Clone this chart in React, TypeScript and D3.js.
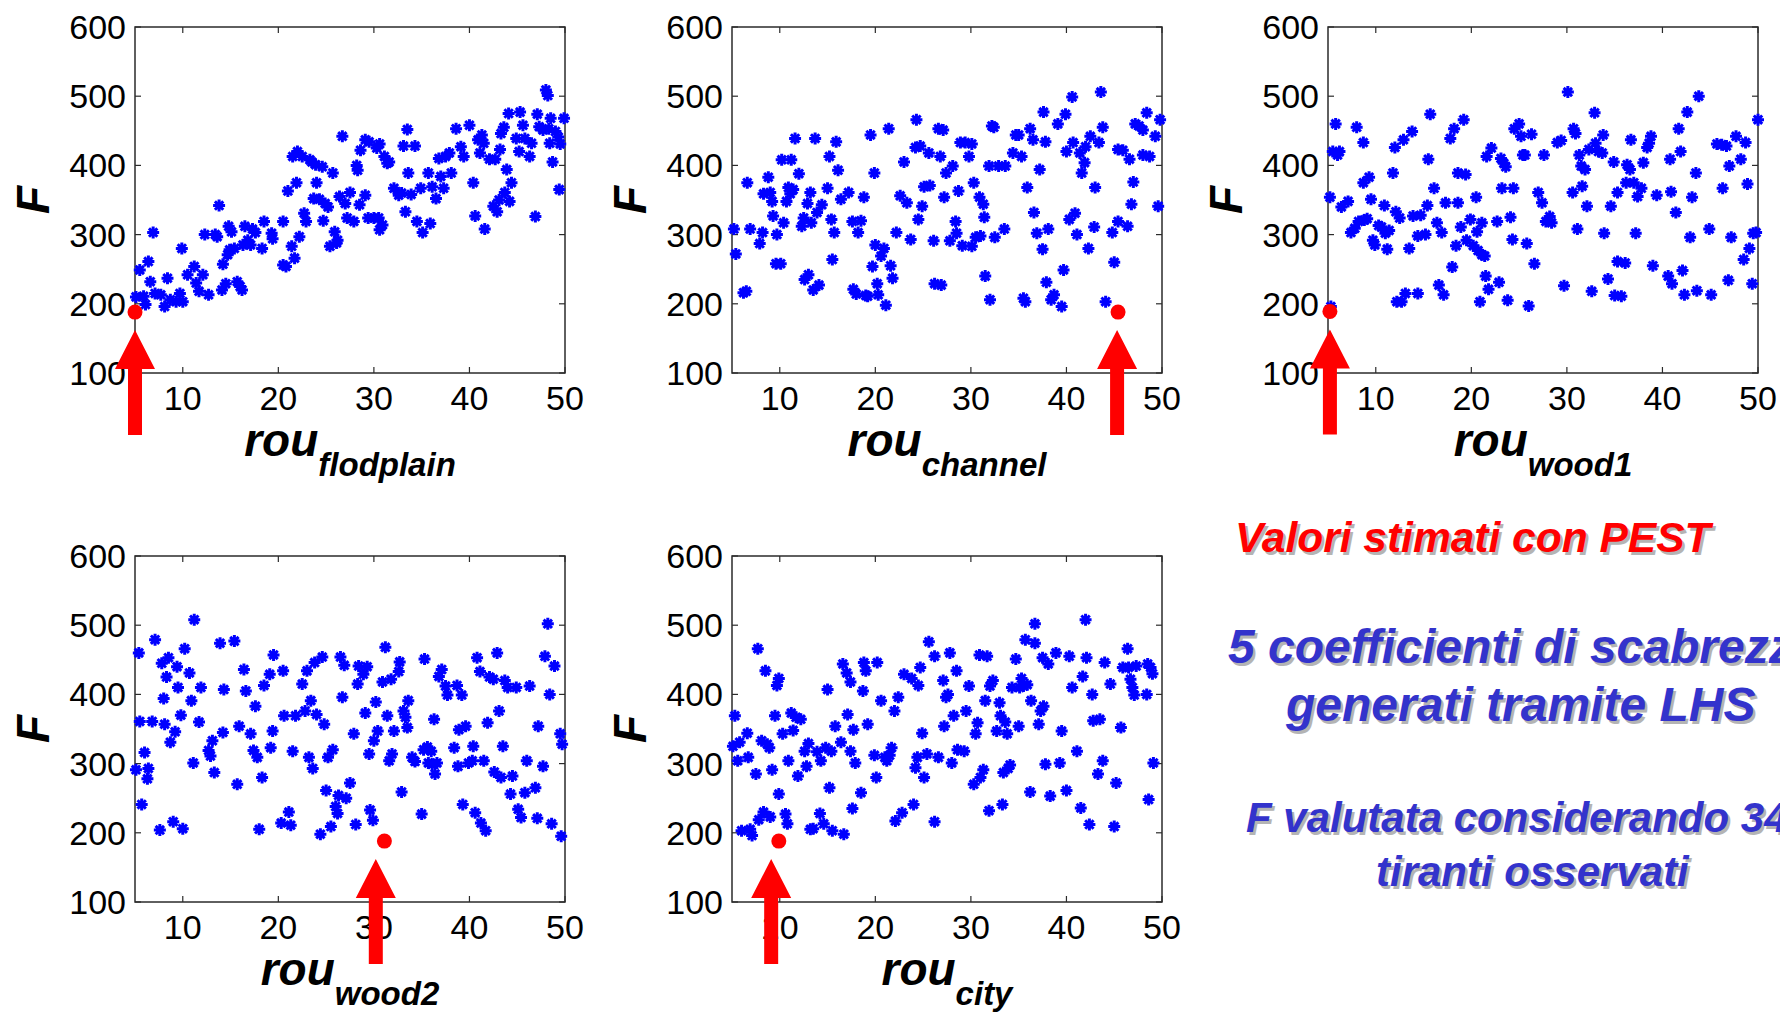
import React from "react";
import * as d3 from "d3";

// ---- data ----
const xTicks = [10, 20, 30, 40, 50];
const yTicks = [100, 200, 300, 400, 500, 600];
const subLabels = ["flodplain", "channel", "wood1", "wood2", "city"];

const flodplainPts: [number, number][] = [[5.1,210],[5.5,249],[5.9,211],[6.1,199],[6.4,261],[6.6,232],[6.9,303],[7.1,215],[7.7,213],[8.1,196],[8.4,237],[8.7,206],[9.3,203],[9.7,215],[10.0,203],[9.9,280],[10.5,242],[11.2,254],[11.4,230],[11.7,218],[12.1,242],[12.3,300],[12.7,213],[13.4,300],[13.6,297],[13.8,342],[14.1,220],[14.2,257],[14.5,229],[14.7,271],[14.8,312],[14.9,278],[15.1,304],[15.4,280],[15.7,232],[16.0,225],[16.2,220],[16.3,285],[16.5,312],[16.8,292],[17.1,285],[17.3,308],[17.6,303],[18.3,280],[18.5,319],[19.3,302],[19.4,294],[20.5,319],[20.5,256],[20.8,254],[21.0,363],[21.4,283],[21.5,413],[21.7,266],[21.9,375],[22.0,420],[22.2,297],[22.5,413],[22.7,331],[22.9,319],[23.3,408],[23.5,405],[23.7,352],[23.9,401],[24.0,375],[24.3,351],[24.6,398],[24.7,320],[24.9,345],[25.2,340],[25.4,283],[25.7,389],[25.9,304],[26.1,288],[26.2,292],[26.4,355],[26.7,442],[27.0,345],[27.2,324],[27.5,361],[27.9,319],[28.2,400],[28.3,393],[28.5,343],[28.6,422],[29.1,357],[29.1,437],[29.4,324],[29.5,434],[30.0,324],[30.3,425],[30.6,431],[30.5,324],[30.6,307],[30.9,314],[31.1,413],[31.4,403],[31.6,405],[32.1,367],[32.6,357],[32.9,360],[33.1,428],[33.3,333],[33.5,452],[33.6,389],[33.9,358],[34.3,428],[34.5,319],[34.9,367],[35.1,303],[35.7,389],[35.9,316],[36.1,369],[36.5,352],[36.8,410],[37.0,384],[37.3,367],[37.5,413],[37.9,418],[38.1,389],[38.6,453],[39.1,427],[39.4,413],[40.0,458],[40.4,375],[40.6,327],[40.9,437],[41.1,418],[41.3,444],[41.5,432],[41.6,308],[42.1,409],[42.5,341],[42.7,409],[42.9,333],[43.1,350],[43.2,423],[43.3,446],[43.6,455],[43.7,361],[43.9,394],[44.1,475],[44.2,348],[44.4,375],[44.9,439],[45.2,420],[45.3,477],[45.6,458],[45.8,439],[46.3,413],[46.5,432],[46.9,326],[47.1,474],[47.3,456],[47.7,451],[48.0,509],[48.2,501],[48.3,453],[48.4,432],[48.5,468],[48.7,405],[49.0,449],[49.3,441],[49.4,365],[49.5,431],[49.9,468]];

const channelPts: [number, number][] = [[5.2,308],[5.4,272],[6.2,216],[6.5,218],[6.6,375],[6.9,308],[7.9,287],[8.2,303],[8.3,359],[8.8,383],[9.0,361],[9.2,348],[9.3,327],[9.6,258],[9.7,300],[10.1,258],[10.2,408],[10.4,317],[10.7,348],[10.9,368],[11.1,359],[11.2,408],[11.4,365],[11.6,439],[12.0,388],[12.3,312],[12.5,324],[12.6,235],[12.9,345],[13.0,242],[13.2,361],[13.3,317],[13.5,220],[13.7,439],[13.9,332],[14.1,227],[14.4,343],[15.0,367],[15.2,413],[15.4,322],[15.5,264],[15.7,303],[15.9,434],[16.1,393],[16.4,351],[17.2,361],[17.6,319],[17.7,221],[18.0,214],[18.2,303],[18.5,320],[18.8,354],[19.0,212],[19.2,211],[19.5,444],[19.7,254],[19.9,389],[20.0,285],[20.2,229],[20.3,213],[20.6,269],[20.9,280],[21.1,198],[21.4,453],[21.6,255],[21.8,237],[22.2,303],[22.6,356],[23.0,405],[23.3,346],[23.7,293],[24.2,426],[24.3,466],[24.5,322],[24.7,428],[24.9,341],[25.1,369],[25.6,418],[25.7,371],[26.1,291],[26.2,229],[26.6,453],[26.8,413],[26.9,227],[27.1,451],[27.2,354],[27.4,389],[27.8,291],[28.1,399],[28.4,319],[28.5,302],[28.7,363],[28.9,433],[29.1,284],[29.4,433],[29.8,413],[30.1,431],[30.1,283],[30.3,375],[30.5,296],[30.9,354],[31.0,298],[31.3,344],[31.4,325],[31.5,240],[31.9,399],[32.0,206],[32.2,457],[32.4,455],[32.5,296],[32.9,399],[33.5,308],[33.6,399],[34.4,418],[34.7,444],[35.0,444],[35.3,413],[35.5,208],[35.7,203],[35.9,368],[36.2,453],[36.5,437],[36.6,332],[36.9,302],[37.2,394],[37.5,279],[37.6,477],[37.8,434],[37.9,231],[38.1,308],[38.4,206],[38.7,213],[39.1,460],[39.5,196],[39.7,249],[39.9,474],[40.0,420],[40.3,322],[40.6,499],[40.7,433],[40.9,331],[41.1,300],[41.4,418],[41.6,389],[41.9,404],[42.0,427],[42.3,280],[42.5,442],[42.9,311],[43.0,368],[43.4,433],[43.6,506],[43.8,455],[44.1,203],[44.8,303],[45.0,260],[45.4,423],[45.4,319],[45.9,422],[46.4,312],[46.6,409],[46.8,344],[47.0,376],[47.2,460],[47.6,457],[48.0,451],[48.0,415],[48.4,476],[48.7,413],[49.3,442],[49.6,341],[49.8,466]];

const wood1Pts: [number, number][] = [[5.2,354],[5.3,196],[5.5,420],[5.8,460],[6.0,415],[6.2,420],[6.4,340],[7.1,348],[7.4,303],[7.8,309],[8.0,455],[8.2,319],[8.7,433],[8.7,375],[8.8,321],[9.1,323],[9.3,383],[9.5,351],[9.7,292],[9.9,285],[10.3,313],[10.6,311],[10.9,342],[11.0,302],[11.2,279],[11.4,306],[11.8,389],[12.0,426],[12.1,333],[12.2,203],[12.5,324],[12.7,203],[12.9,437],[13.1,215],[13.5,280],[13.8,449],[13.9,327],[14.4,215],[14.4,298],[14.7,328],[15.2,300],[15.4,342],[15.5,409],[15.7,474],[16.1,367],[16.4,317],[16.6,227],[16.9,303],[17.1,213],[17.3,346],[17.8,439],[18.0,253],[18.2,453],[18.4,284],[18.6,346],[18.6,389],[18.9,311],[19.2,466],[19.4,387],[19.5,292],[19.9,322],[20.2,284],[20.5,354],[20.6,304],[20.7,277],[20.9,203],[21.1,317],[21.1,271],[21.4,269],[21.5,240],[21.6,413],[21.8,221],[22.1,425],[22.7,319],[22.9,231],[23.1,410],[23.2,367],[23.4,403],[23.6,398],[23.8,205],[24.1,325],[24.3,293],[24.4,367],[24.5,453],[25.0,460],[25.2,442],[25.4,415],[25.6,415],[25.8,287],[26.0,197],[26.3,445],[26.6,258],[27.0,361],[27.4,346],[27.6,415],[27.8,319],[28.2,326],[28.4,317],[29.0,433],[29.4,436],[29.7,226],[30.1,506],[30.6,361],[30.7,453],[30.9,446],[31.1,308],[31.3,415],[31.5,399],[31.6,370],[31.9,394],[32.1,341],[32.3,423],[32.6,218],[32.9,476],[33.0,432],[33.3,420],[33.7,418],[33.8,444],[33.9,302],[34.3,236],[34.6,341],[34.9,405],[35.0,212],[35.3,361],[35.3,261],[35.7,211],[36.1,259],[36.2,375],[36.3,401],[36.6,394],[36.7,437],[37.0,375],[37.2,302],[37.4,355],[37.8,367],[38.0,404],[38.4,426],[38.6,432],[38.8,442],[39.0,255],[39.4,357],[40.6,240],[40.8,409],[40.9,362],[41.0,229],[41.4,332],[41.7,453],[41.9,420],[42.1,248],[42.3,213],[42.6,477],[42.9,296],[43.1,354],[43.5,389],[43.6,219],[43.8,500],[44.9,308],[45.1,213],[45.7,431],[46.2,430],[46.3,367],[46.7,428],[46.9,234],[47.0,399],[47.2,296],[47.7,442],[48.2,409],[48.5,264],[48.7,433],[48.9,373],[49.1,280],[49.4,229],[49.5,302],[49.8,303],[50.0,466]];

const wood2Pts: [number, number][] = [[5.1,291],[5.4,460],[5.5,361],[5.7,241],[6.0,316],[6.3,278],[6.4,293],[6.8,361],[7.1,479],[7.6,204],[7.8,445],[8.0,394],[8.1,357],[8.3,425],[8.5,453],[8.7,331],[9.0,216],[9.2,346],[9.4,440],[9.5,410],[9.8,370],[10.0,206],[10.2,466],[10.7,431],[10.9,391],[11.1,301],[11.2,508],[11.7,360],[11.9,410],[12.7,319],[12.9,311],[13.1,333],[13.3,287],[13.9,474],[14.2,345],[14.3,407],[15.4,477],[15.7,270],[15.9,354],[16.4,436],[16.6,405],[17.1,343],[17.4,319],[17.6,383],[17.8,309],[18.0,205],[18.3,280],[18.5,413],[19.1,429],[19.2,323],[19.4,347],[19.5,457],[20.3,214],[20.5,434],[20.6,369],[21.1,230],[21.3,211],[21.5,318],[21.8,369],[22.5,415],[22.8,376],[23.0,434],[23.2,309],[23.4,391],[23.6,293],[23.8,446],[24.0,371],[24.4,198],[24.6,454],[24.8,357],[25.0,261],[25.2,309],[25.5,209],[25.7,320],[26.0,238],[26.2,228],[26.3,254],[26.5,454],[26.7,396],[26.9,442],[27.1,250],[27.5,272],[27.9,343],[28.1,212],[28.3,415],[28.4,441],[28.9,429],[29.1,373],[29.3,440],[29.5,314],[29.6,233],[29.9,218],[30.0,333],[30.2,389],[30.4,347],[30.9,418],[31.2,468],[31.4,369],[31.6,304],[31.8,422],[31.9,314],[32.1,347],[32.6,433],[32.7,447],[32.9,259],[33.1,376],[33.3,367],[33.5,352],[33.6,391],[34.0,309],[34.3,303],[35.0,227],[35.2,320],[35.3,451],[35.6,324],[35.7,301],[36.0,318],[36.1,299],[36.3,364],[36.4,285],[36.6,301],[36.8,426],[37.1,436],[37.5,412],[37.7,399],[38.4,323],[38.7,413],[38.8,296],[38.9,349],[39.2,399],[39.3,241],[39.6,354],[39.9,301],[40.3,304],[40.4,325],[40.6,229],[40.8,453],[41.1,433],[41.2,214],[41.5,304],[41.7,203],[41.9,359],[42.1,425],[42.5,422],[42.6,288],[42.9,460],[43.1,376],[43.3,280],[43.5,325],[43.7,420],[44.0,410],[44.3,256],[44.5,282],[44.9,410],[45.1,234],[45.4,222],[45.8,258],[46.0,304],[46.3,412],[46.9,265],[47.1,221],[47.2,354],[47.7,296],[47.9,455],[48.2,502],[48.4,400],[48.6,213],[48.9,441],[49.5,343],[49.6,195],[49.7,328]];

const cityPts: [number, number][] = [[5.3,369],[5.1,325],[5.6,304],[5.8,331],[6.0,203],[6.6,344],[6.7,309],[6.9,205],[7.1,196],[7.5,285],[7.7,466],[7.8,219],[8.1,333],[8.3,230],[8.5,434],[8.7,328],[8.9,323],[9.0,223],[9.2,291],[9.5,369],[9.7,413],[9.9,423],[9.9,256],[10.3,343],[10.6,227],[10.8,213],[10.9,304],[11.2,373],[11.4,348],[11.7,367],[11.9,282],[12.2,364],[12.6,318],[12.8,296],[13.0,329],[13.2,205],[13.5,206],[13.9,317],[14.2,228],[14.3,304],[14.6,213],[14.8,323],[15.0,407],[15.2,265],[15.4,318],[15.5,203],[15.8,354],[16.4,331],[16.6,444],[16.7,198],[17.0,431],[17.1,371],[17.4,418],[17.4,318],[17.6,235],[17.7,349],[17.9,301],[18.5,258],[18.7,405],[18.8,446],[19.0,434],[19.2,357],[19.9,312],[20.1,280],[20.2,446],[20.6,391],[21.0,309],[21.2,304],[21.5,312],[21.7,323],[22.0,376],[22.1,217],[22.4,396],[22.8,229],[23.0,429],[23.8,423],[24.0,241],[24.2,294],[24.4,309],[24.5,413],[24.7,439],[24.9,344],[25.1,280],[25.4,314],[25.6,476],[26.2,455],[26.2,216],[26.6,309],[27.1,420],[27.2,354],[27.4,396],[27.6,400],[27.8,460],[28.0,301],[28.2,369],[28.5,434],[28.6,320],[29.3,318],[29.5,376],[29.8,412],[30.3,270],[30.5,343],[30.7,359],[30.9,457],[31.0,280],[31.3,291],[31.5,391],[31.7,455],[31.9,232],[32.0,412],[32.3,420],[32.7,347],[33.0,388],[33.1,369],[33.3,241],[33.4,287],[33.6,360],[33.8,343],[33.9,293],[34.1,298],[34.3,410],[34.7,451],[35.0,354],[35.1,410],[35.3,423],[35.5,412],[35.7,479],[35.9,414],[36.2,259],[36.3,391],[36.7,502],[36.7,474],[37.1,357],[37.3,376],[37.5,453],[37.6,383],[37.8,299],[38.1,444],[38.3,253],[38.9,460],[39.3,301],[39.5,347],[40.0,261],[40.3,455],[40.6,410],[41.1,318],[41.5,236],[41.7,426],[42.0,508],[42.1,453],[42.4,212],[42.7,400],[42.8,362],[43.3,285],[43.5,364],[43.8,304],[44.0,446],[44.6,415],[45.2,272],[45.0,209],[45.7,352],[45.9,439],[46.4,466],[46.5,439],[46.7,422],[46.9,410],[47.1,399],[47.3,441],[48.4,400],[48.5,444],[48.6,248],[48.8,439],[49.0,430],[49.1,301]];

// PEST estimates (red points) and arrow positions
const pestX = [5.0, 45.4, 5.2, 31.1, 9.9];
const pestY = [188, 188, 189, 188, 188];
const arrowX = [5.0, 45.3, 5.2, 30.2, 9.1];

const allPts = [flodplainPts, channelPts, wood1Pts, wood2Pts, cityPts];

// ---- layout ----
const PW = 430;
const PH = 346;
const origins = [
  { left: 135, top: 27 },
  { left: 732, top: 27 },
  { left: 1328, top: 27 },
  { left: 135, top: 556 },
  { left: 732, top: 556 },
];

const FONT = "'Liberation Sans', Arial, Helvetica, sans-serif";
const starPath = "M-6,0H6M0,-6V6M-4.2,-4.2L4.2,4.2M-4.2,4.2L4.2,-4.2";

function Panel({ i }: { i: number }) {
  const { left, top } = origins[i];
  const x = d3.scaleLinear().domain([5, 50]).range([0, PW]);
  const y = d3.scaleLinear().domain([100, 600]).range([PH, 0]);
  const pts = allPts[i];
  const ax = x(arrowX[i]);
  const tipY = y(pestY[i]) + 18;
  const arrow = [
    [ax, tipY],
    [ax + 20, tipY + 39],
    [ax + 7, tipY + 39],
    [ax + 7, tipY + 105],
    [ax - 7, tipY + 105],
    [ax - 7, tipY + 39],
    [ax - 20, tipY + 39],
  ];
  const tl = 6;
  return (
    <g transform={`translate(${left},${top})`}>
      <rect x={0} y={0} width={PW} height={PH} fill="white" stroke="#2b2b2b" strokeWidth={1.5} />
      {xTicks.map((t) => (
        <g key={"xt" + t}>
          <line x1={x(t)} x2={x(t)} y1={PH} y2={PH - tl} stroke="#2b2b2b" strokeWidth={1.2} />
          <line x1={x(t)} x2={x(t)} y1={0} y2={tl} stroke="#2b2b2b" strokeWidth={1.2} />
          <text x={x(t)} y={PH + 37} textAnchor="middle" fontFamily={FONT} fontSize={34} fill="#000">
            {t}
          </text>
        </g>
      ))}
      {yTicks.map((t) => (
        <g key={"yt" + t}>
          <line x1={0} x2={tl} y1={y(t)} y2={y(t)} stroke="#2b2b2b" strokeWidth={1.2} />
          <line x1={PW} x2={PW - tl} y1={y(t)} y2={y(t)} stroke="#2b2b2b" strokeWidth={1.2} />
          <text x={-9} y={y(t) + 12} textAnchor="end" fontFamily={FONT} fontSize={34} fill="#000">
            {t}
          </text>
        </g>
      ))}
      {pts.map((p, k) => (
        <path
          key={k}
          d={starPath}
          transform={`translate(${x(p[0])},${y(p[1])})`}
          stroke="#0000ff"
          strokeWidth={3}
          fill="none"
        />
      ))}
      <circle cx={x(pestX[i])} cy={y(pestY[i])} r={7.5} fill="#ff0000" />
      <polygon points={arrow.map((p) => p.join(",")).join(" ")} fill="#ff0000" />
      <text
        transform={`translate(${-102},${PH / 2}) rotate(-90)`}
        textAnchor="middle"
        fontFamily={FONT}
        fontWeight="bold"
        fontStyle="italic"
        fontSize={46}
        dy={16}
        fill="#000"
      >
        F
      </text>
      <text
        x={PW / 2}
        y={PH + 83}
        textAnchor="middle"
        fontFamily={FONT}
        fontWeight="bold"
        fontStyle="italic"
        fill="#000"
      >
        <tspan fontSize={46}>rou</tspan>
        <tspan fontSize={33} dy={20}>{subLabels[i]}</tspan>
      </text>
    </g>
  );
}

function ShadowText({ x, y, size, color, anchor, children }: any) {
  return (
    <g fontFamily={FONT} fontWeight="bold" fontStyle="italic" fontSize={size} textAnchor={anchor || "start"}>
      <text x={x + 2.5} y={y + 2.5} fill="#b4b4b4">{children}</text>
      <text x={x} y={y} fill={color}>{children}</text>
    </g>
  );
}

export default function App() {
  return (
    <div style={{ position: "absolute", left: 0, top: 0 }}>
      <svg width={1780} height={1012} style={{ display: "block", background: "#fff" }}>
        <rect width={1780} height={1012} fill="#fff" />
        {origins.map((_, i) => (
          <Panel key={i} i={i} />
        ))}
        <ShadowText x={1235} y={552} size={42.5} color="#ff0000">Valori stimati con PEST</ShadowText>
        <ShadowText x={1228} y={663} size={48} color="#3333cc">5 coefficienti di scabrezza</ShadowText>
        <ShadowText x={1286} y={721} size={48} color="#3333cc">generati tramite LHS</ShadowText>
        <ShadowText x={1246} y={832} size={42} color="#3333cc">F valutata considerando 34</ShadowText>
        <ShadowText x={1376} y={886} size={42} color="#3333cc">tiranti osservati</ShadowText>
      </svg>
    </div>
  );
}
